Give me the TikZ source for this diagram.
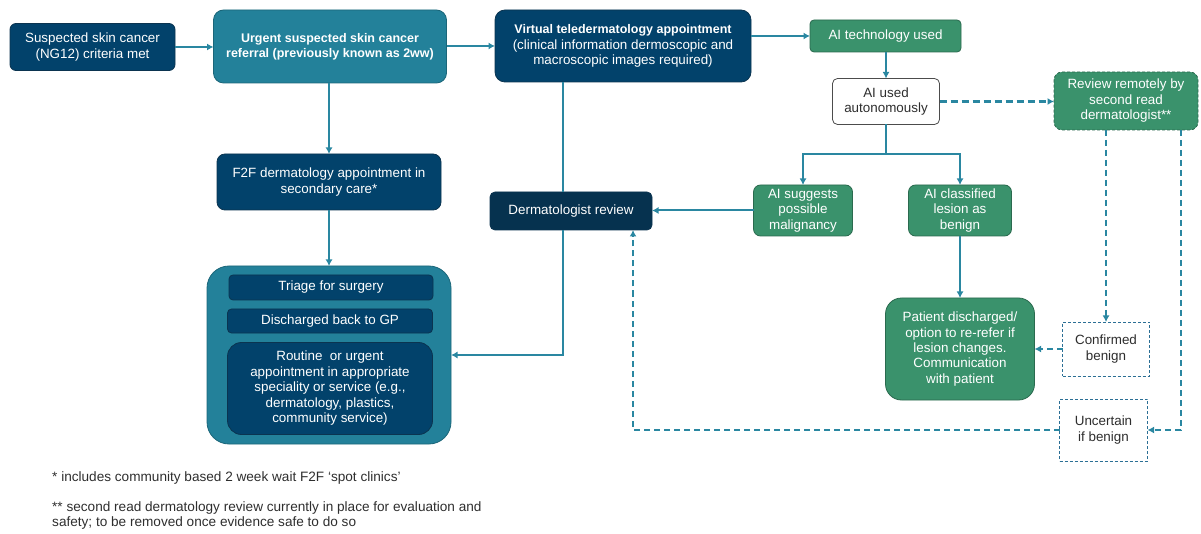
\documentclass[tikz,border=0pt]{standalone}
\usepackage{fontspec}
\setmainfont{Liberation Sans}
\usetikzlibrary{arrows.meta,calc}
\definecolor{dblue}{HTML}{02426B}
\definecolor{dblueb}{HTML}{0B3450}
\definecolor{dnavy}{HTML}{06324F}
\definecolor{teal}{HTML}{23819A}
\definecolor{tealb}{HTML}{1B6679}
\definecolor{green}{HTML}{3A926C}
\definecolor{greenb}{HTML}{2A6A4E}
\definecolor{lineteal}{HTML}{2A87A1}
\definecolor{dashblue}{HTML}{2B6F95}
\definecolor{txtgray}{HTML}{2E2E2E}
\begin{document}
\begin{tikzpicture}[x=1pt,y=-1pt,
  font=\fontsize{13.4}{15.5}\selectfont,
  base/.style={align=center, inner sep=2pt, outer sep=0pt, line width=0.8pt, text=white},
  navy/.style={base, fill=dblue, draw=dblueb},
  navydark/.style={base, fill=dnavy, draw=dblueb},
  tealbox/.style={base, fill=teal, draw=tealb},
  greenbox/.style={base, fill=green, draw=greenb},
  whitebox/.style={base, fill=white, draw=black!70, text=txtgray},
  dashbox/.style={base, fill=white, draw=dashblue, dash pattern=on 3pt off 2pt, text=txtgray},
  conn/.style={draw=lineteal, line width=2pt},
  arr/.style={conn, -{Latex[length=6.5pt,width=7pt]}},
  darr/.style={arr, dash pattern=on 6pt off 4pt},
  box/.style n args={3}{minimum width=#1, minimum height=#2, rounded corners=#3}
]
\useasboundingbox (0,0) rectangle (1201,534);

\node[navy, box={165pt}{47pt}{6pt}] (n1) at (92.5,47) {Suspected skin cancer\\(NG12) criteria met};
\node[tealbox, box={233pt}{73pt}{10pt}, font=\fontsize{12.5}{15}\selectfont\bfseries] (n2) at (330,46.5) {Urgent suspected skin cancer\\referral (previously known as 2ww)};
\node[navy, box={256pt}{72pt}{10pt}] (n3) at (623,46) {{\bfseries\fontsize{12.5}{15}\selectfont Virtual teledermatology appointment}\\(clinical information dermoscopic and\\macroscopic images required)};
\node[greenbox, box={151pt}{32pt}{4pt}] (aitech) at (885.5,36) {AI technology used};
\node[whitebox, box={107pt}{46pt}{5pt}] (aiauto) at (886,101.5) {AI used\\autonomously};
\node[greenbox, box={144pt}{58pt}{8pt}, draw=greenb, dash pattern=on 3pt off 2pt] (review) at (1126,101) {Review remotely by\\second read\\dermatologist**};
\node[navy, box={224pt}{56pt}{8pt}] (f2f) at (329,182) {F2F dermatology appointment in\\secondary care*};
\node[navydark, box={162pt}{38pt}{5pt}] (derm) at (571,211) {Dermatologist review};
\node[greenbox, box={99pt}{51pt}{7pt}] (aisugg) at (803,210.5) {AI suggests\\possible\\malignancy};
\node[greenbox, box={103pt}{51pt}{7pt}] (aiclass) at (960,210.5) {AI classified\\lesion as\\benign};
\node[tealbox, box={244pt}{178pt}{22pt}] (cont) at (329,355) {};
\node[navy, box={204pt}{25pt}{4pt}] (triage) at (331,287.5) {Triage for surgery};
\node[navy, box={205pt}{24pt}{4pt}] (disc) at (330,321) {Discharged back to GP};
\node[navy, box={205pt}{92pt}{14pt}, font=\fontsize{13.4}{15.5}\selectfont] (routine) at (330,388.5) {Routine\ \ or urgent\\appointment in appropriate\\speciality or service (e.g.,\\dermatology, plastics,\\community service)};
\node[greenbox, box={149pt}{102pt}{16pt}, font=\fontsize{13.4}{15.3}\selectfont] (patient) at (960,349) {Patient discharged/\\option to re-refer if\\lesion changes.\\Communication\\with patient};
\node[dashbox, box={87pt}{54pt}{0pt}] (confirmed) at (1106,349) {Confirmed\\benign};
\node[dashbox, box={88pt}{62pt}{0pt}] (uncertain) at (1103.5,430) {Uncertain\\if benign};

\node[anchor=west, text=txtgray, inner sep=0pt, font=\fontsize{13.6}{15.5}\selectfont] (fn1) at (52,478) {* includes community based 2 week wait F2F ‘spot clinics’};
\node[anchor=north west, text=txtgray, inner sep=0pt, align=left, font=\fontsize{13.6}{15.5}\selectfont] (fn2) at (52,501) {** second read dermatology review currently in place for evaluation and\\safety; to be removed once evidence safe to do so};

\coordinate (vx) at (563,0);
\coordinate (vx2) at (633,0);
\coordinate (vx3) at (1181,0);

\draw[arr] (n1.east) -- (n1.east -| n2.west);
\draw[arr] (n2.east |- n3.west) -- (n3.west);
\draw[arr] (n3.east |- aitech) -- (aitech.west);
\draw[arr] (aitech.south -| aiauto.north) -- (aiauto.north);
\draw[conn] (aiauto.south) -- ++(0,30) coordinate (split);
\draw[arr] (split) -| (aisugg.north);
\draw[arr] (split) -| (aiclass.north);
\draw[darr, line width=2.4pt, dash pattern=on 7pt off 4pt] (aiauto.east) -- (review.west |- aiauto.east);
\draw[darr] (review.south -| confirmed.north) -- (confirmed.north);
\draw[darr] (review.south -| vx3) |- (uncertain.east);
\draw[darr] (confirmed.west) -- (patient.east);
\draw[arr] (aiclass.south) -- (patient.north);
\draw[arr] (aisugg.west) -- (derm.east |- aisugg.west);
\draw[conn] (n3.south -| vx) -- (derm.north -| vx);
\draw[arr] (derm.south -| vx) |- (cont.east);
\draw[darr] (uncertain.west) -| (derm.south -| vx2);
\draw[arr] (n2.south -| f2f.north) -- (f2f.north);
\draw[arr] (f2f.south) -- (cont.north);
\end{tikzpicture}
\end{document}
